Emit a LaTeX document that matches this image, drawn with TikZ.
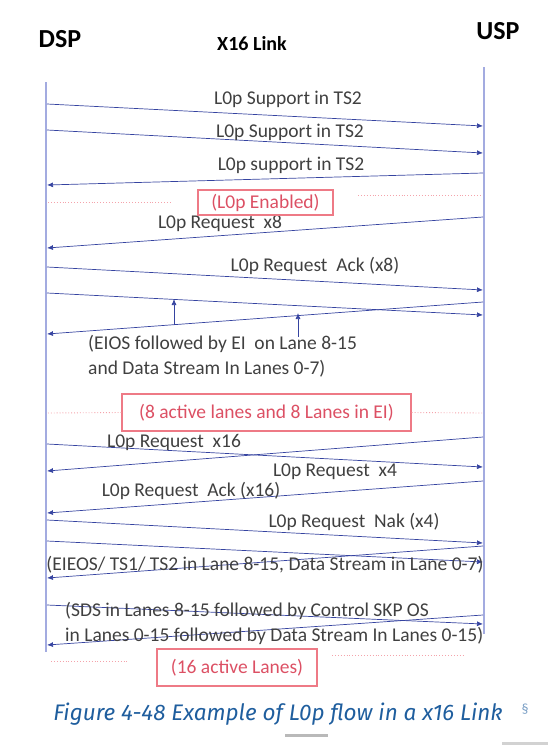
\documentclass[tikz,border=0pt]{standalone}
\usepackage{fontspec}
\setmainfont{Carlito}
\newfontfamily\capfont{Fira Sans}
\usetikzlibrary{arrows.meta}
\definecolor{lifeblue}{HTML}{A3ABE0}
\definecolor{msgblue}{HTML}{3543A0}
\definecolor{labelgray}{HTML}{404040}
\definecolor{boxred}{HTML}{EE7A86}
\definecolor{textred}{HTML}{DC5064}
\definecolor{guidered}{HTML}{F4A3AB}
\definecolor{capblue}{HTML}{1F5E9E}
\tikzset{
x=1pt, y=-1pt, % one unit is one pixel of the reference, y grows downward
party/.style={text=black, font=\bfseries\fontsize{26}{30}\selectfont, inner sep=0pt}, % DSP and USP
lifeline/.style={draw=lifeblue, line width=1.4pt},
msg/.style={draw=msgblue, line width=0.7pt, -{Latex[length=6pt,width=5pt]}}, % every message arrow
lbl/.style={text=labelgray, font=\fontsize{19.5}{25}\selectfont, inner sep=0pt},
statebox/.style={draw=boxred, line width=1.4pt, text=textred, font=\fontsize{19.5}{22}\selectfont},
guide/.style={draw=guidered, dotted, line width=0.9pt}, % red dotted marks beside the boxes
}

\begin{document}
\begin{tikzpicture}
    \useasboundingbox (0,0) rectangle (555,745);
    % parties and lifelines
    \node[party] (dsp) at (60,39) {DSP};
    \node[party] (usp) at (498,31) {USP};
    \node[text=black, font=\bfseries\fontsize{20}{24}\selectfont, inner sep=0pt] (link) at (252,44) {X16 Link};
    \coordinate (dtop) at (46,82);
    \coordinate (dbot) at (46,652);
    \coordinate (utop) at (484,67);
    \coordinate (ubot) at (484,634);
    \draw[lifeline] (dtop) -- (dbot);
    \draw[lifeline] (utop) -- (ubot);

    % end points of the messages on both lifelines
    \foreach \n/\yd/\yu in {1/104/126, 2/130/153, 3/185/173, 4/248/217, 5/267/290, 6/293/315,
                            7/334/302, 9/444/467, 10/471/437, 11/513/481, 12/520/543,
                            13/541/562, 14/578/546, 15/605/624, 16/645/615}
        {\coordinate (d\n) at (47,\yd); \coordinate (u\n) at (483,\yu);}

    \draw[msg] (d1) -- (u1);
    \draw[msg] (d2) -- (u2);
    \draw[msg] (u3) -- (d3);
    \draw[msg] (u4) -- (d4);
    \draw[msg] (d5) -- (u5);
    \draw[msg] (d6) -- (u6);
    \draw[msg] (u7) -- (d7);
    \draw[msg] (d9) -- (u9);
    \draw[msg] (u10) -- (d10);
    \draw[msg] (u11) -- (d11);
    \draw[msg] (d12) -- (u12);
    \draw[msg] (d13) -- (u13);
    \draw[msg] (u14) -- (d14);
    \draw[msg] (d15) -- (u15);
    \draw[msg] (u16) -- (d16);

    % message labels
    \node[lbl] (m1) at (288,99) {L0p Support in TS2};
    \node[lbl] (m2) at (290,132) {L0p Support in TS2};
    \node[lbl] (m3) at (291,165) {L0p support in TS2};
    \node[lbl] (m4) at (220,223) {L0p Request~ x8};
    \node[lbl] (m5) at (315,266) {L0p Request~ Ack (x8)};
    \node[lbl, align=left, anchor=west] (eios) at (88,356) {(EIOS followed by EI~ on Lane 8-15\\and Data Stream In Lanes 0-7)};
    \node[lbl] (m9) at (174,442) {L0p Request~ x16};
    \node[lbl] (m10) at (335,472) {L0p Request~ x4};
    \node[lbl] (m11) at (191,491) {L0p Request~ Ack (x16)};
    \node[lbl] (m12) at (354,522) {L0p Request~ Nak (x4)};
    \node[lbl] (eieos) at (265,565) {(EIEOS/ TS1/ TS2 in Lane 8-15, Data Stream in Lane 0-7)};
    \node[lbl, align=left, anchor=west] (sds) at (65,623) {(SDS in Lanes 8-15 followed by Control SKP OS\\in Lanes 0-15 followed by Data Stream In Lanes 0-15)};

    % the two small arrows pointing at the lane change
    \coordinate (p1a) at (174,325);
    \coordinate (p1b) at (174,299);
    \coordinate (p2a) at (298,337);
    \coordinate (p2b) at (298,313);
    \draw[msg] (p1a) -- (p1b);
    \draw[msg] (p2a) -- (p2b);

    % link states
    \node[statebox, minimum width=135, minimum height=25] (enabled) at (265.5,202.5) {(L0p Enabled)};
    \node[statebox, minimum width=289, minimum height=37] (half) at (266.5,412.5) {(8 active lanes and 8 Lanes in EI)};
    \node[statebox, minimum width=160, minimum height=37] (full) at (237,667.5) {(16 active Lanes)};
    \draw[guide] (48,202) -- (172,202);
    \draw[guide] (358,195) -- (482,195);
    \draw[guide] (48,413) -- (half.west);
    \draw[guide] (half.east) -- (483,413);
    \draw[guide] (51,661) -- (128,661);
    \draw[guide] (332,655) -- (465,655);

    % caption
    \node[text=capblue, font=\capfont\itshape\fontsize{22.5}{26}\selectfont, inner sep=0pt] (cap) at (278,714) {Figure 4-48 Example of L0p flow in a x16 Link};
    \node[text=capblue!60, font=\fontsize{14}{16}\selectfont, inner sep=0pt] (sect) at (525,709) {§};
    \draw[gray!55, line width=3pt] (285,735) -- (328,735);
    \draw[gray!35, line width=3pt] (502,743) -- (548,743);
\end{tikzpicture}
\end{document}
